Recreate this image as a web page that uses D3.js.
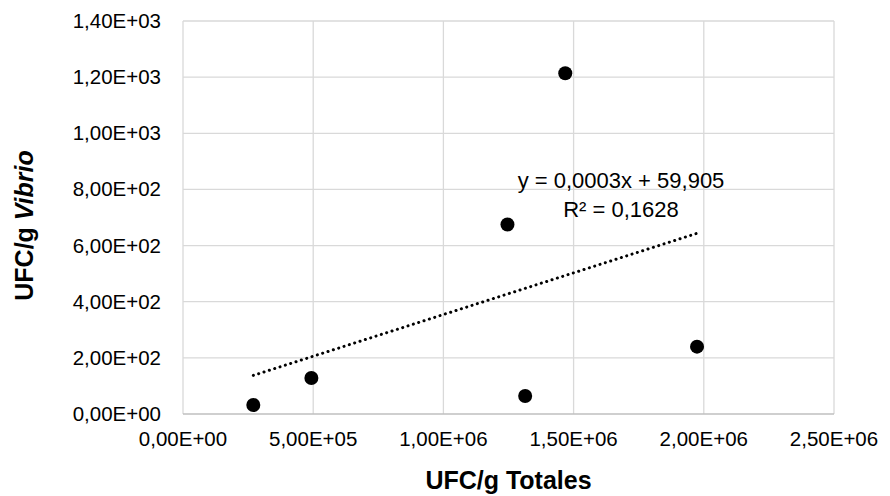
<!DOCTYPE html>
<html lang="es">
<head>
<meta charset="UTF-8">
<title>UFC/g Vibrio vs UFC/g Totales</title>
<script src="https://d3js.org/d3.v7.min.js"></script>
<style>
    body { margin: 0; background: #fff; }
    text { font-family: "Liberation Sans", Arial, sans-serif; fill: #000; }
</style>
</head>
<body>
<div id="chart"></div>
<script>
    // Data
    const totales = [2.70e5, 4.93e5, 1.246e6, 1.468e6, 1.314e6, 1.974e6];
    const vibrio = [32, 128, 675, 1214, 64, 240];
    const xTicks = [0, 5e5, 1e6, 1.5e6, 2e6, 2.5e6];
    const yTicks = [0, 200, 400, 600, 800, 1000, 1200, 1400];
    const equationLines = ["y = 0,0003x + 59,905", "R\u00b2 = 0,1628"];

    const width = 890, height = 496;
    const margin = {top: 21, right: 56, bottom: 82, left: 183};

    const svg = d3.select("#chart").append("svg")
        .attr("width", width)
        .attr("height", height);

    const x = d3.scaleLinear().domain([0, 2.5e6]).range([margin.left, width - margin.right]);
    const y = d3.scaleLinear().domain([0, 1400]).range([height - margin.bottom, margin.top]);

    // format like Excel scientific with comma decimal: 1,40E+03
    const sci = v => {
        if (v === 0) return "0,00E+00";
        const e = Math.floor(Math.log10(Math.abs(v)));
        const m = (v / Math.pow(10, e)).toFixed(2).replace(".", ",");
        return m + "E+" + String(e).padStart(2, "0");
    };

    // gridlines
    svg.append("g").selectAll("line")
        .data(xTicks)
        .join("line")
        .attr("x1", d => x(d)).attr("x2", d => x(d))
        .attr("y1", y(0)).attr("y2", y(1400))
        .attr("stroke", "#d9d9d9").attr("stroke-width", 1.3);

    svg.append("g").selectAll("line")
        .data(yTicks.slice(1))
        .join("line")
        .attr("x1", x(0)).attr("x2", x(2.5e6))
        .attr("y1", d => y(d)).attr("y2", d => y(d))
        .attr("stroke", "#d9d9d9").attr("stroke-width", 1.3);

    // x axis baseline
    svg.append("line")
        .attr("x1", x(0)).attr("x2", x(2.5e6))
        .attr("y1", y(0)).attr("y2", y(0))
        .attr("stroke", "#bfbfbf").attr("stroke-width", 1.6);

    // tick labels
    svg.append("g").selectAll("text")
        .data(xTicks)
        .join("text")
        .attr("x", d => x(d))
        .attr("y", y(0) + 32)
        .attr("text-anchor", "middle")
        .style("font-size", "20.5px")
        .text(sci);

    svg.append("g").selectAll("text")
        .data(yTicks)
        .join("text")
        .attr("x", x(0) - 22)
        .attr("y", d => y(d) + 7)
        .attr("text-anchor", "end")
        .style("font-size", "20.5px")
        .text(sci);

    // axis titles
    svg.append("text")
        .attr("x", (x(0) + x(2.5e6)) / 2)
        .attr("y", 489)
        .attr("text-anchor", "middle")
        .style("font-size", "25px")
        .style("font-weight", "bold")
        .text("UFC/g Totales");

    const yTitle = svg.append("text")
        .attr("transform", `translate(33,${(y(0) + y(1400)) / 2 + 8}) rotate(-90)`)
        .attr("text-anchor", "middle")
        .style("font-size", "25px")
        .style("font-weight", "bold");
    yTitle.append("tspan").text("UFC/g ");
    yTitle.append("tspan").style("font-style", "italic").text("Vibrio");

    // linear trendline (least squares)
    const mx = d3.mean(totales), my = d3.mean(vibrio);
    const sxy = d3.sum(totales, (v, i) => (v - mx) * (vibrio[i] - my));
    const sxx = d3.sum(totales, v => (v - mx) * (v - mx));
    const slope = sxy / sxx, intercept = my - slope * mx;
    const trendX = d3.extent(totales);

    svg.append("path")
        .attr("d", d3.line().x(d => x(d)).y(d => y(slope * d + intercept))(trendX))
        .attr("fill", "none")
        .attr("stroke", "#000")
        .attr("stroke-width", 3)
        .attr("stroke-linecap", "round")
        .attr("stroke-dasharray", "0.1 5.5");

    // points
    svg.append("g").selectAll("circle")
        .data(totales)
        .join("circle")
        .attr("cx", d => x(d))
        .attr("cy", (d, i) => y(vibrio[i]))
        .attr("r", 7)
        .attr("fill", "#000");

    // trendline equation label
    svg.append("g").selectAll("text")
        .data(equationLines)
        .join("text")
        .attr("x", 621)
        .attr("y", (d, i) => 188 + i * 29)
        .attr("text-anchor", "middle")
        .style("font-size", "22px")
        .text(d => d);
</script>
</body>
</html>
